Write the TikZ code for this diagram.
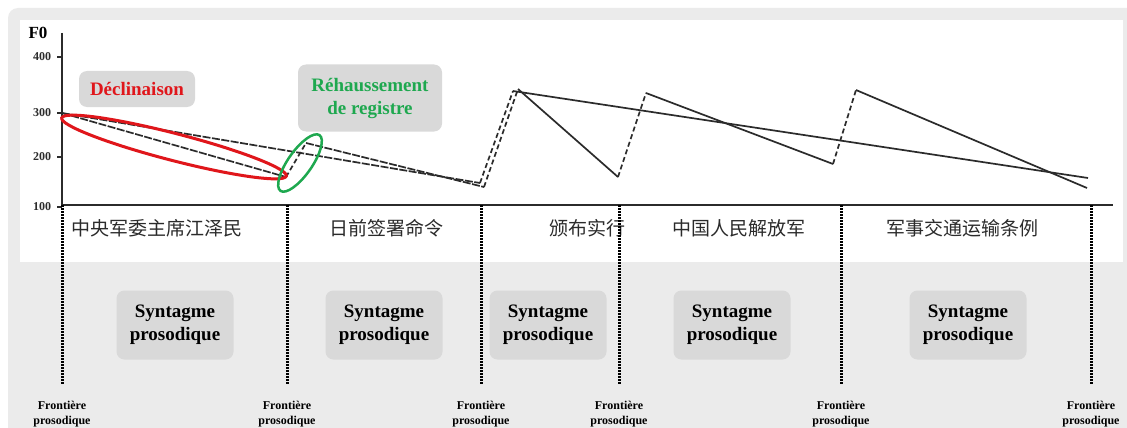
\documentclass[tikz,border=0pt]{standalone}
\usepackage{fontspec}
\setmainfont{Liberation Serif}
\newfontfamily\cjk{Noto Sans CJK SC}
\usepackage{tikz}
\usetikzlibrary{shapes.geometric}
\definecolor{panelgray}{HTML}{EBEBEB}
\definecolor{boxgray}{HTML}{D9D9D9}
\definecolor{declred}{HTML}{E0161B}
\definecolor{regreen}{HTML}{1EA84F}
\definecolor{ink}{HTML}{2B2B2B}

\tikzset{
  labelbox/.style={fill=boxgray, rounded corners=8pt, inner sep=0pt, align=center,
    font=\bfseries\fontsize{19}{23}\selectfont},
  frontier/.style={align=center, inner sep=0pt, font=\bfseries\fontsize{12}{15}\selectfont},
  ylab/.style={inner sep=0pt, font=\bfseries\fontsize{12}{14}\selectfont, text=ink},
  word/.style={inner sep=0pt, text=ink, font=\cjk\fontsize{19}{20}\selectfont},
  axis/.style={line width=2pt, ink},
  boundary/.style={line width=3pt, dash pattern=on 1.6pt off 1.4pt, black},
  phrase/.style={line width=1.7pt, ink, dash pattern=on 8pt off 1.5pt},
  slope/.style={line width=1.7pt, ink},
  reset/.style={line width=1.7pt, ink, dash pattern=on 5pt off 3pt},
  ring/.style={ellipse, inner sep=0pt}
}

\begin{document}
\begin{tikzpicture}[x=1pt,y=-1pt]
\useasboundingbox (0,0) rectangle (1127,428);
\fill[white] (0,0) rectangle (1127,428);
\fill[panelgray] (8,428) [rounded corners=10pt] -- (8,8) [sharp corners] -- (1127,8) -- (1127,428) -- cycle;
\fill[white] (20,20) rectangle (1123,262);

% axes
\coordinate (ytop) at (62,33);
\coordinate (origin) at (62,205);
\coordinate (xend) at (1113,205);
\draw[axis] (ytop) -- (origin) -- (xend);
\node[font=\bfseries\fontsize{17}{18}\selectfont] (f0) at (38,33) {F0};
\foreach \y/\v in {57/400,113/300,157/200,207/100} {
  \node[ylab] (y\v) at (42,\y) {\v};
  \draw[axis] (57,\y) -- (62,\y);
}

% phrase text
\node[word] (w1) at (157,228) {中央军委主席江泽民};
\node[word] (w2) at (386,228) {日前签署命令};
\node[word] (w3) at (587,228) {颁布实行};
\node[word] (w4) at (739,228) {中国人民解放军};
\node[word] (w5) at (962,228) {军事交通运输条例};

% boundaries
\foreach \x [count=\i] in {62,287,481,619,841,1091} {
  \coordinate (top\i) at (\x,205);
  \coordinate (bot\i) at (\x,384);
  \draw[boundary] (top\i) -- (bot\i);
  \node[frontier] (fr\i) at (\x,414.5) {Frontière\\prosodique};
}
\foreach \x [count=\i] in {175,384,548,732,968}
  \node[labelbox, minimum width=117pt, minimum height=69pt] (syn\i) at (\x,325) {Syntagme\\prosodique};

% F0 contour
\coordinate (a0) at (62,113);
\coordinate (a1) at (286,177);
\coordinate (a2) at (306,143);
\coordinate (a3) at (484,187);
\coordinate (a4) at (518,89);
\coordinate (a5) at (618,177);
\coordinate (a6) at (646,93);
\coordinate (a7) at (833,164);
\coordinate (a8) at (856,90);
\coordinate (a9) at (1087,188);
\coordinate (b1) at (480,183);
\coordinate (b2) at (513,91);
\coordinate (b3) at (1088,178);

\draw[phrase] (a0) -- (a1);
\draw[reset] (a1) -- (a2);
\draw[phrase] (a2) -- (a3);
\draw[reset] (a3) -- (a4);
\draw[slope] (a4) -- (a5);
\draw[reset] (a5) -- (a6);
\draw[slope] (a6) -- (a7);
\draw[reset] (a7) -- (a8);
\draw[slope] (a8) -- (a9);
\draw[phrase] (a0) -- (b1);
\draw[reset] (b1) -- (b2);
\draw[slope] (b2) -- (b3);

% annotations
\node[labelbox, text=declred, minimum width=116pt, minimum height=36pt] (decl) at (137,89) {Déclinaison};
\node[labelbox, text=regreen, minimum width=144pt, minimum height=67pt] (rehaus) at (370,98) {Réhaussement\\de registre};
\node[ring, draw=declred, line width=3pt, minimum width=232pt, minimum height=27pt, rotate=-14.5] (declring) at (174,147) {};
\node[ring, draw=regreen, line width=2.5pt, minimum width=68pt, minimum height=24pt, rotate=55] (regring) at (300,163) {};

\end{tikzpicture}
\end{document}
